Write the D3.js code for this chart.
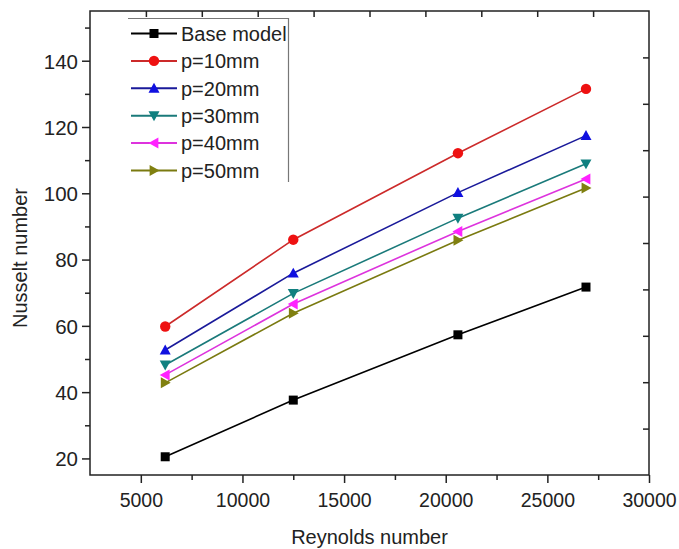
<!DOCTYPE html>
<html>
<head>
  <script src="https://d3js.org/d3.v7.min.js"></script>
  <style>
    body { margin: 0; background: #fff; }
    text { font-family: Arial, "Liberation Sans", sans-serif; fill: #222; }
  </style>
</head>
<body>
  <div id="chart"></div>
  <script>
    // data
    const reynolds = [6200, 12500, 20600, 26900];
    const seriesNames = ["Base model", "p=10mm", "p=20mm", "p=30mm", "p=40mm", "p=50mm"];
    const baseModel = [20.5, 37.6, 57.3, 71.7];
    const p10 = [59.8, 86.0, 112.1, 131.5];
    const p20 = [52.7, 75.9, 100.2, 117.4];
    const p30 = [48.2, 69.8, 92.5, 108.9];
    const p40 = [45.2, 66.6, 88.5, 104.3];
    const p50 = [42.8, 63.8, 85.8, 101.6];
    const xTicks = [5000, 10000, 15000, 20000, 25000, 30000];
    const yTicks = [20, 40, 60, 80, 100, 120, 140];

    const colors = ["#000000", "#ee1111", "#1010e0", "#108080", "#ff22ff", "#808010"];
    const lineColors = ["#000000", "#cc2a2a", "#1a1a9a", "#1a7a7a", "#dd33dd", "#7a7a10"];
    const shapes = ["square", "circle", "up", "down", "left", "right"];
    const allSeries = [baseModel, p10, p20, p30, p40, p50];

    const W = 679, H = 549;
    const pL = 90, pR = 649, pT = 11, pB = 475;

    const svg = d3.select("#chart").append("svg")
      .attr("width", W).attr("height", H);

    const x = d3.scaleLinear().domain([2500, 30000]).range([pL, pR]);
    const y = d3.scaleLinear().domain([15, 155]).range([pB, pT]);

    // frame
    svg.append("rect")
      .attr("x", pL).attr("y", pT)
      .attr("width", pR - pL).attr("height", pB - pT)
      .attr("fill", "none").attr("stroke", "#222").attr("stroke-width", 1.5);

    // bottom axis, major + minor
    const xAxis = svg.append("g")
      .attr("transform", "translate(0," + pB + ")")
      .call(d3.axisBottom(x).tickValues(xTicks).tickSize(8).tickPadding(10).tickFormat(d3.format("d")));
    svg.append("g")
      .attr("transform", "translate(0," + pB + ")")
      .call(d3.axisBottom(x).tickValues([7500, 12500, 17500, 22500, 27500]).tickSize(5).tickFormat(""));

    // left axis, major + minor
    const yAxis = svg.append("g")
      .attr("transform", "translate(" + pL + ",0)")
      .call(d3.axisLeft(y).tickValues(yTicks).tickSize(8).tickPadding(4));
    svg.append("g")
      .attr("transform", "translate(" + pL + ",0)")
      .call(d3.axisLeft(y).tickValues([30, 50, 70, 90, 110, 130, 150]).tickSize(5).tickFormat(""));

    // mirror ticks on top and right (even divisions of the frame)
    const div = d3.range(1, 10);
    const xd = d3.scaleLinear().domain([0, 10]).range([pL, pR]);
    const yd = d3.scaleLinear().domain([0, 10]).range([pB, pT]);
    svg.append("g")
      .attr("transform", "translate(0," + pT + ")")
      .call(d3.axisBottom(xd).tickValues(div).tickSize(6).tickFormat(""));
    svg.append("g")
      .attr("transform", "translate(" + pR + ",0)")
      .call(d3.axisLeft(yd).tickValues(div).tickSize(6).tickFormat(""));

    svg.selectAll(".domain").remove();
    svg.selectAll(".tick line").attr("stroke", "#222").attr("stroke-width", 1.5);
    xAxis.selectAll("text").style("font-size", "19.5px").attr("fill", "#222");
    yAxis.selectAll("text").style("font-size", "20.5px").attr("fill", "#222").attr("dy", "0.36em");

    // axis titles
    svg.append("text")
      .attr("x", (pL + pR) / 2).attr("y", 544)
      .attr("text-anchor", "middle").style("font-size", "20px")
      .text("Reynolds number");
    svg.append("text")
      .attr("transform", "translate(27,258) rotate(-90)")
      .attr("text-anchor", "middle").style("font-size", "20px")
      .text("Nusselt number");

    // marker drawer
    function marker(g, shape, color, cx, cy) {
      const s = 5.5;
      if (shape === "square") {
        g.append("rect").attr("x", cx - 4.5).attr("y", cy - 4.5).attr("width", 9).attr("height", 9).attr("fill", color);
      } else if (shape === "circle") {
        g.append("circle").attr("cx", cx).attr("cy", cy).attr("r", 5.2).attr("fill", color);
      } else {
        let pts;
        if (shape === "up") pts = [[cx, cy - s], [cx - s, cy + s * 0.8], [cx + s, cy + s * 0.8]];
        if (shape === "down") pts = [[cx, cy + s], [cx - s, cy - s * 0.8], [cx + s, cy - s * 0.8]];
        if (shape === "left") pts = [[cx - s, cy], [cx + s * 0.8, cy - s], [cx + s * 0.8, cy + s]];
        if (shape === "right") pts = [[cx + s, cy], [cx - s * 0.8, cy - s], [cx - s * 0.8, cy + s]];
        g.append("polygon").attr("points", pts.map(p => p.join(",")).join(" ")).attr("fill", color);
      }
    }

    const line = d3.line().x((d, i) => x(reynolds[i])).y(d => y(d));

    // draw series, last first so red sits on top
    for (let k = allSeries.length - 1; k >= 0; k--) {
      const g = svg.append("g");
      g.append("path").datum(allSeries[k])
        .attr("d", line).attr("fill", "none")
        .attr("stroke", lineColors[k]).attr("stroke-width", 1.6);
      allSeries[k].forEach((v, i) => marker(g, shapes[k], colors[k], x(reynolds[i]), y(v)));
    }

    // legend
    const lg = svg.append("g");
    lg.append("rect").attr("x", 128).attr("y", 18).attr("width", 160).attr("height", 164).attr("fill", "#fff");
    lg.append("path").attr("d", "M128,18.5H288.5V182").attr("fill", "none").attr("stroke", "#777").attr("stroke-width", 1.2);
    seriesNames.forEach((name, k) => {
      const ly = 33.5 + k * 27.4;
      lg.append("line").attr("x1", 131).attr("x2", 177).attr("y1", ly).attr("y2", ly)
        .attr("stroke", lineColors[k]).attr("stroke-width", 2);
      marker(lg, shapes[k], colors[k], 154, ly);
      lg.append("text").attr("x", 181).attr("y", ly).attr("dy", "0.36em")
        .style("font-size", "20px").text(name);
    });
  </script>
</body>
</html>
